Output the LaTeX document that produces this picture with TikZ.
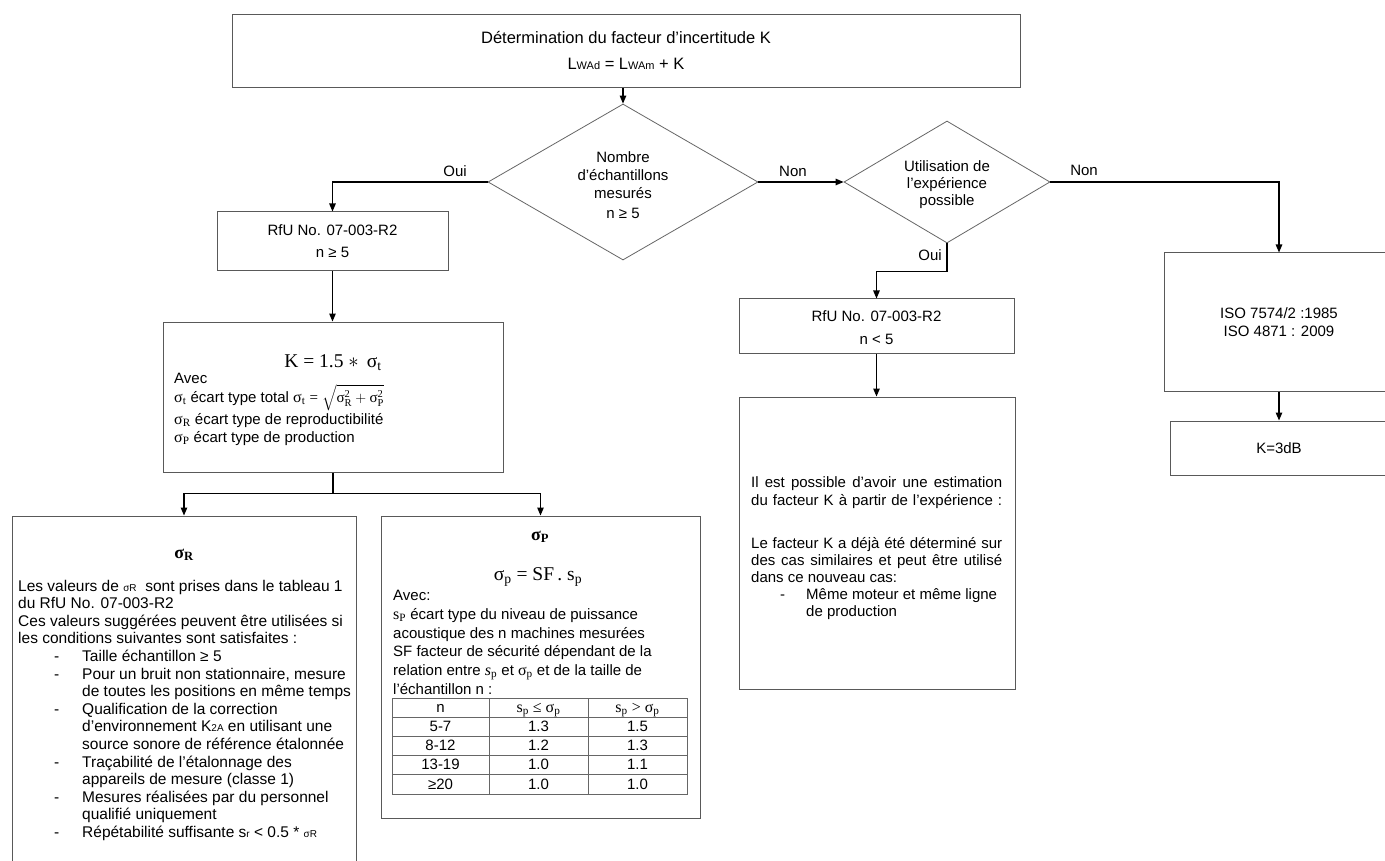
\documentclass[tikz,border=0pt]{standalone}
\usepackage{fontspec}
\usepackage{amsmath}
\setmainfont{Liberation Sans}
\newfontfamily\mf{Liberation Serif}
\usetikzlibrary{arrows.meta,shapes.geometric}
\newcounter{lnc}
\newcommand\Lw[4][]{\stepcounter{lnc}\node[txt,anchor=base west,#1] (t\the\value{lnc}) at (#2,#3+5) {#4};}
\newcommand\Lc[4][]{\stepcounter{lnc}\node[txt,anchor=base,#1] (t\the\value{lnc}) at (#2,#3+5) {#4};}
\newcommand\sm[1]{{\fontsize{10}{10}\selectfont #1}}
\newcommand\sg[1]{{\mf\fontsize{16}{18}\selectfont σ\textsubscript{#1}}}
\newcommand\ms[1]{\text{\mf #1}}
\tikzset{
  box/.style={draw=black!65, line width=1pt, rectangle, inner sep=0pt, fill=white},
  dia/.style={draw=black!60, line width=0.8pt, diamond, inner sep=0pt, fill=white},
  arr/.style={-{Triangle[length=8pt,width=6.5pt]}, line width=1.2pt, black},
  lnk/.style={line width=1.2pt, black},
  txt/.style={inner sep=0pt, font=\fontsize{15}{18}\selectfont},
  big/.style={font=\fontsize{15.5}{18}\selectfont},
  tbl/.style={draw=black!60, line width=0.8pt}
}
\begin{document}
\begin{tikzpicture}[x=1pt,y=-1pt]
\useasboundingbox (0,0) rectangle (1385,861);
\fill[white] (0,0) rectangle (1385,861);

% ---------- boxes ----------
\node[box, minimum width=788, minimum height=73] (top) at (626,51.5) {};
\node[dia, minimum width=270, minimum height=156] (d1) at (623,182) {};
\node[dia, minimum width=206, minimum height=122] (d2) at (947,182) {};
\node[box, minimum width=231, minimum height=59] (rfu1) at (332.5,241.5) {};
\node[box, minimum width=340, minimum height=150] (kbox) at (333,397) {};
\node[box, minimum width=344, minimum height=364] (sR) at (184,698) {};
\node[box, minimum width=319, minimum height=302] (sP) at (540.5,667) {};
\node[box, minimum width=275, minimum height=54] (rfu2) at (876.5,326) {};
\node[box, minimum width=276, minimum height=292] (exp) at (877,543) {};
\node[box, minimum width=230, minimum height=138] (iso) at (1279,322) {};
\node[box, minimum width=218, minimum height=54] (k3) at (1279,448) {};

% ---------- connectors ----------
\draw[arr] (d1.north |- top.south) -- (d1.north);
\draw[arr] (d1.west) -| (rfu1.north);
\draw[arr] (d1.east) -- (d2.west);
\draw[arr] (d2.east) -| (iso.north);
\draw[arr] (d2.south) -- ++(0,28) -| (rfu2.north);
\draw[arr] (rfu1.south) -- (rfu1.south |- kbox.north);
\draw[lnk] (kbox.south) -- ++(0,21) coordinate (kj);
\draw[arr] (kj) -| (sR.north);
\draw[arr] (kj) -| (sP.north);
\draw[arr] (rfu2.south) -- (rfu2.south |- exp.north);
\draw[arr] (iso.south) -- (k3.north);

% ---------- connector labels ----------
\Lc{455}{172}{Oui}
\Lc{793}{172}{Non}
\Lc{1084}{171}{Non}
\Lc{930}{256}{Oui}

% ---------- top ----------
\Lc[font=\fontsize{16.5}{20}\selectfont]{626}{39}{Détermination du facteur d’incertitude K}
\Lc[font=\fontsize{16.5}{20}\selectfont]{626}{65}{L{\fontsize{11}{11}\selectfont WAd} = L{\fontsize{11}{11}\selectfont WAm} + K}

% ---------- diamonds ----------
\Lc{623}{158}{Nombre}
\Lc{623}{176}{d’échantillons}
\Lc{623}{194}{mesurés}
\Lc{623}{214}{n ≥ 5}
\Lc{947}{167}{Utilisation de}
\Lc{947}{184}{l’expérience}
\Lc{947}{201}{possible}

% ---------- RfU 1 ----------
\Lc{332.5}{231}{RfU No. 07-003-R2}
\Lc{332.5}{253}{n ≥ 5}

% ---------- K box ----------
\Lc[font=\fontsize{19.5}{22}\selectfont]{333}{362}{\mf K = 1.5 $\ast$\, σ\textsubscript{t}}
\Lw{174}{378}{Avec}
\Lw{174}{397}{\sg{t} écart type total \sg{t} {\mf =} $\sqrt{\ms{σ}^{\ms{2}}_{\ms{R}}+\ms{σ}^{\ms{2}}_{\ms{P}}}$}
\Lw{174}{419}{\sg{R} écart type de reproductibilité}
\Lw{174}{437}{\sg{P} écart type de production}

% ---------- sigma R box ----------
\Lc[font=\fontsize{18}{20}\selectfont]{184}{553}{\mf\bfseries σ\textsubscript{R}}
\Lw[big]{18}{586.0}{Les valeurs de \sm{σR}\ \ sont prises dans le tableau 1}
\Lw[big]{18}{603.6}{du RfU No. 07-003-R2}
\Lw[big]{18}{621.2}{Ces valeurs suggérées peuvent être utilisées si}
\Lw[big]{18}{638.8}{les conditions suivantes sont satisfaites :}
\Lw[big]{54}{656.4}{-}\Lw[big]{82}{656.4}{Taille échantillon ≥ 5}
\Lw[big]{54}{674.0}{-}\Lw[big]{82}{674.0}{Pour un bruit non stationnaire, mesure}
\Lw[big]{82}{691.6}{de toutes les positions en même temps}
\Lw[big]{54}{709.2}{-}\Lw[big]{82}{709.2}{Qualification de la correction}
\Lw[big]{82}{726.8}{d’environnement K\sm{2A} en utilisant une}
\Lw[big]{82}{744.4}{source sonore de référence étalonnée}
\Lw[big]{54}{762.0}{-}\Lw[big]{82}{762.0}{Traçabilité de l’étalonnage des}
\Lw[big]{82}{779.6}{appareils de mesure (classe 1)}
\Lw[big]{54}{797.2}{-}\Lw[big]{82}{797.2}{Mesures réalisées par du personnel}
\Lw[big]{82}{814.8}{qualifié uniquement}
\Lw[big]{54}{832.4}{-}\Lw[big]{82}{832.4}{Répétabilité suffisante s\sm{r} < 0.5 * \sm{σR}}

% ---------- sigma P box ----------
\Lc[font=\fontsize{18}{20}\selectfont]{540}{535}{\mf\bfseries σ\textsubscript{P}}
\Lc[font=\fontsize{19.5}{22}\selectfont]{538}{575}{\mf σ\textsubscript{p} = SF\,. s\textsubscript{p}}
\Lw{393}{595}{Avec:}
\Lw{393}{614}{{\mf\fontsize{16}{18}\selectfont s\textsubscript{P}} écart type du niveau de puissance}
\Lw{393}{633}{acoustique des n machines mesurées}
\Lw{393}{651}{SF facteur de sécurité dépendant de la}
\Lw{393}{670}{relation entre {\mf\fontsize{16}{18}\selectfont\itshape s\textsubscript{\upshape p}} et \sg{p} et de la taille de}
\Lw{393}{689}{l’échantillon n :}
% table
\draw[tbl] (392,698) rectangle (687,794);
\foreach \yy in {717.2,736.4,755.6,774.8} \draw[tbl] (392,\yy) -- (687,\yy);
\foreach \xx in {489,588} \draw[tbl] (\xx,698) -- (\xx,794);
\Lc{440.5}{707}{n}
\Lc{538.5}{707}{\mf\fontsize{16}{18}\selectfont s\textsubscript{p} ≤ σ\textsubscript{p}}
\Lc{637.5}{707}{\mf\fontsize{16}{18}\selectfont s\textsubscript{p} > σ\textsubscript{p}}
\Lc{440.5}{726.5}{5-7}   \Lc{538.5}{726.5}{1.3} \Lc{637.5}{726.5}{1.5}
\Lc{440.5}{745.5}{8-12}  \Lc{538.5}{745.5}{1.2} \Lc{637.5}{745.5}{1.3}
\Lc{440.5}{764.5}{13-19} \Lc{538.5}{764.5}{1.0} \Lc{637.5}{764.5}{1.1}
\Lc{440.5}{784}{≥20}     \Lc{538.5}{784}{1.0}   \Lc{637.5}{784}{1.0}

% ---------- RfU 2 ----------
\Lc{876.5}{316}{RfU No. 07-003-R2}
\Lc{876.5}{339}{n < 5}

% ---------- experience box ----------
\Lw{751}{482}{\makebox[251pt][s]{Il est possible d’avoir une estimation}}
\Lw{751}{500}{\makebox[251pt][s]{du facteur K à partir de l’expérience :}}
\Lw{751}{543}{\makebox[251pt][s]{Le facteur K a déjà été déterminé sur}}
\Lw{751}{560}{\makebox[251pt][s]{des cas similaires et peut être utilisé}}
\Lw{751}{577}{dans ce nouveau cas:}
\Lw{780}{594}{-}\Lw{806}{594}{Même moteur et même ligne}
\Lw{806}{611}{de production}

% ---------- ISO / K=3dB ----------
\Lc{1279}{313}{ISO 7574/2 :1985}
\Lc{1279}{331}{ISO 4871 : 2009}
\Lc{1279}{448}{K=3dB}
\end{tikzpicture}
\end{document}
